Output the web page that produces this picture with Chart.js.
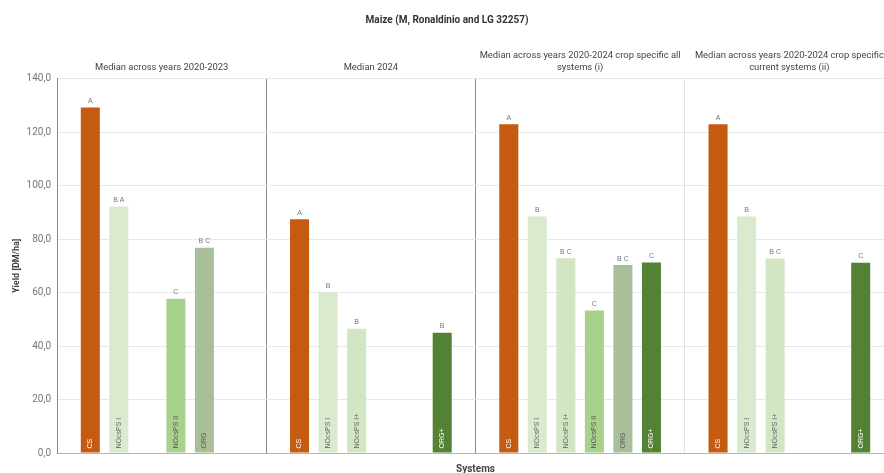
<!DOCTYPE html>
<html>
<head>
<meta charset="utf-8">
<script src="https://cdn.jsdelivr.net/npm/chart.js@4.4.1/dist/chart.umd.min.js"></script>
<style>
  html, body { margin: 0; padding: 0; overflow: hidden; background: #fff; }
  #wrap { width: 952px; height: 480px; }
</style>
</head>
<body>
<div id="wrap"><canvas id="yieldChart" width="952" height="480"></canvas></div>
<script>
// panel headings (top axis)
const panels = [
    ['Median across years 2020-2023'],
    ['Median 2024'],
    ['Median across years 2020-2024 crop specific all', 'systems (i)'],
    ['Median across years 2020-2024 crop specific', 'current systems (ii)']
];

const systems = ['CS', 'NOcsPS I', 'NOcsPS I+', 'NOcsPS II', 'ORG', 'ORG+'];

// yield per system, one value per panel (null = not shown)
const csYield       = [129.3, 87.5, 123.0, 123.0];
const nocsIYield    = [92.2, 60.1, 88.5, 88.5];
const nocsIPlus     = [null, 46.5, 72.9, 72.8];
const nocsIIYield   = [57.7, null, 53.3, null];
const orgYield      = [76.8, null, 70.3, null];
const orgPlusYield  = [null, 45.0, 71.3, 71.2];

// significance letters
const csLetters      = ['A', 'A', 'A', 'A'];
const nocsILetters   = ['B A', 'B', 'B', 'B'];
const nocsIPLetters  = [null, 'B', 'B C', 'B C'];
const nocsIILetters  = ['C', null, 'C', null];
const orgLetters     = ['B C', null, 'B C', null];
const orgPLetters    = [null, 'B', 'C', 'C'];

const colors = ['#c55a11', '#dbeacf', '#d2e6c4', '#a9d18e', '#a9bf99', '#548235'];
const labelColors = ['#ffffff', '#666666', '#666666', '#555555', '#555555', '#ffffff'];

const values = [csYield, nocsIYield, nocsIPlus, nocsIIYield, orgYield, orgPlusYield];
const letters = [csLetters, nocsILetters, nocsIPLetters, nocsIILetters, orgLetters, orgPLetters];

const barText = {
    id: 'barText',
    afterDatasetsDraw(chart) {
        const c = chart.ctx;
        chart.data.datasets.forEach((ds, di) => {
            const meta = chart.getDatasetMeta(di);
            meta.data.forEach((bar, i) => {
                if (ds.data[i] === null) return;
                // letters above
                c.save();
                c.font = '7px "Liberation Sans", Arial, sans-serif';
                c.fillStyle = '#777';
                c.textAlign = 'center';
                c.textBaseline = 'bottom';
                c.fillText(letters[di][i], bar.x, bar.y - 3);
                c.restore();
                // system name inside bar, rotated
                c.save();
                c.translate(bar.x, bar.base - 4);
                c.rotate(-Math.PI / 2);
                c.font = '7px "Liberation Sans", Arial, sans-serif';
                c.fillStyle = labelColors[di];
                c.textAlign = 'left';
                c.textBaseline = 'middle';
                c.fillText(systems[di], 0, 0);
                c.restore();
            });
        });
    }
};

const datasets = systems.map((s, i) => ({
    label: s,
    data: values[i],
    backgroundColor: colors[i],
    borderWidth: 0,
    categoryPercentage: 0.818,
    barPercentage: 0.667
}));

const fontFam = 'Roboto, "Liberation Sans", Arial, sans-serif';

new Chart(document.getElementById('yieldChart'), {
    type: 'bar',
    data: { labels: panels, datasets: datasets },
    plugins: [barText],
    options: {
        responsive: false,
        animation: false,
        layout: { padding: { left: 0, right: 58, top: 0, bottom: 0 } },
        plugins: {
            legend: { display: false },
            tooltip: { enabled: false },
            title: {
                display: true,
                text: 'Maize (M, Ronaldinio and LG 32257)',
                color: '#333',
                font: { family: fontFam, size: 10, weight: 'bold' },
                padding: { top: 14, bottom: 5 }
            }
        },
        scales: {
            x: {
                position: 'top',
                offset: true,
                grid: {
                    offset: true,
                    drawTicks: false,
                    color: (ctx) => {
                        if (ctx.index === 1 || ctx.index === 2) return '#8c8c8c';
                        if (ctx.index === 3) return '#e2e2e2';
                        return 'rgba(0,0,0,0)';
                    }
                },
                border: { display: false },
                ticks: {
                    autoSkip: false,
                    maxRotation: 0,
                    padding: 6,
                    color: '#444',
                    font: { family: fontFam, size: 9.4 }
                },
                afterFit: (scale) => { scale.height = 47.8; }
            },
            x2: {
                type: 'category',
                labels: panels,
                position: 'bottom',
                offset: true,
                grid: { display: false, drawTicks: false },
                border: { display: true, color: '#b5b5b5' },
                ticks: { display: false },
                title: {
                    display: true,
                    text: 'Systems',
                    color: '#444',
                    font: { family: fontFam, size: 10, weight: 'bold' },
                    padding: { top: 0, bottom: 5 }
                },
                afterFit: (scale) => { scale.height = 27; }
            },
            y: {
                min: 0,
                max: 140,
                ticks: {
                    stepSize: 20,
                    padding: 6,
                    color: '#777',
                    font: { family: fontFam, size: 10 },
                    callback: (v) => v.toFixed(1).replace('.', ',')
                },
                grid: { color: '#e8e8e8', drawTicks: false },
                border: { color: '#8c8c8c' },
                title: {
                    display: true,
                    text: 'Yield [DM/ha]',
                    color: '#444',
                    font: { family: fontFam, size: 9, weight: 'bold' },
                    padding: { top: 11, bottom: 0 }
                },
                afterFit: (scale) => { scale.width = 57; }
            }
        }
    }
});
</script>
</body>
</html>
